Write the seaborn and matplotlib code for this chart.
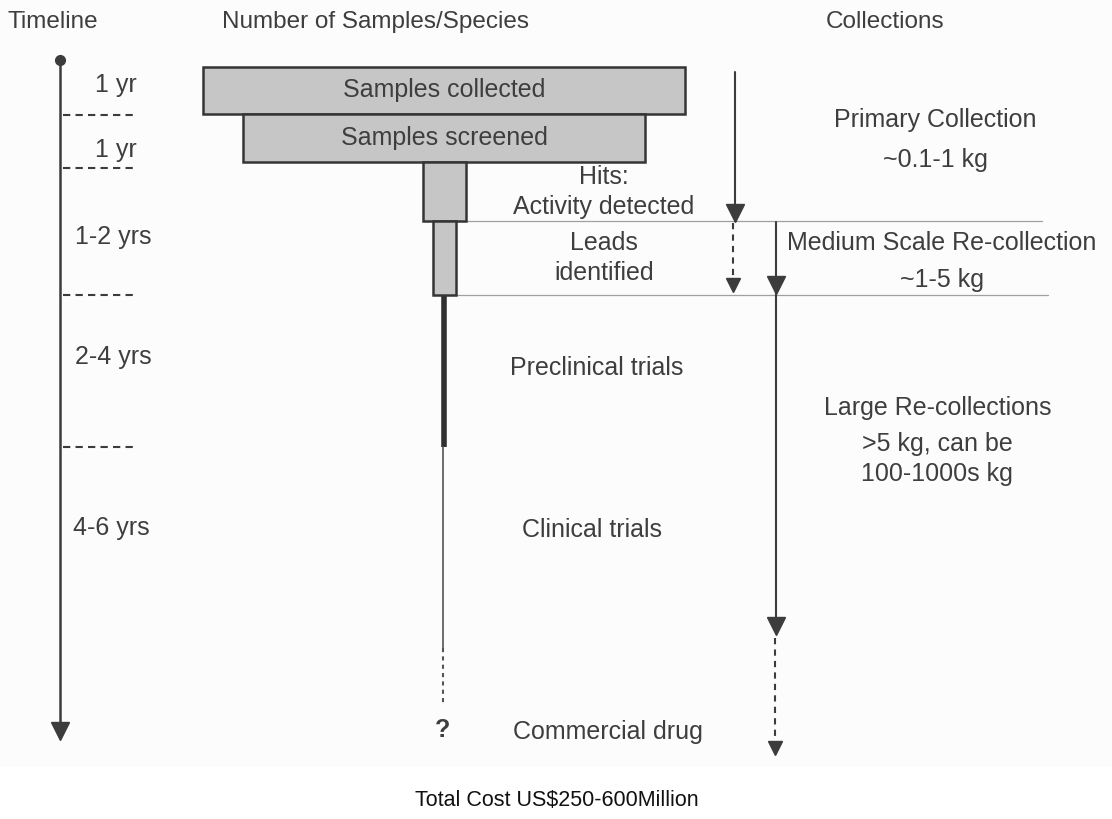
import matplotlib
matplotlib.use("Agg")
import matplotlib.pyplot as plt
import seaborn as sns

sns.set_theme(style="white")
plt.rcParams['font.family'] = ['Liberation Sans', 'DejaVu Sans']

# ---------------- data ----------------
headers = ["Timeline", "Number of Samples/Species", "Collections"]
stage_labels = ["Samples collected", "Samples screened", "Hits:\nActivity detected", "Leads\nidentified"]
funnel_widths = [482, 402, 43, 23]          # relative number of samples
funnel_edges = [67, 114, 162, 221, 295]     # stage boundaries (vertical)
timeline_labels = ["1 yr", "1 yr", "1-2 yrs", "2-4 yrs", "4-6 yrs"]
timeline_marks = [115, 168, 295, 447]
later_stages = ["Preclinical trials", "Clinical trials", "Commercial drug"]
collections = ["Primary Collection", "~0.1-1 kg",
               "Medium Scale Re-collection", "~1-5 kg",
               "Large Re-collections", ">5 kg, can be", "100-1000s kg"]
total_cost = "Total Cost US$250-600Million"

# ---------------- figure ----------------
TXT = "#3e3e3e"
LINE = "#3c3c3c"
FS = 18

fig = plt.figure(figsize=(11.12, 8.19), dpi=100)
ax = fig.add_axes([0, 0, 1, 1])
ax.set_xlim(0, 1112)
ax.set_ylim(819, 0)
ax.axis("off")

# faint scan background
ax.axhspan(0, 765, color="#fcfcfc", zorder=0)

# headers
ax.text(8, 22, headers[0], ha="left", va="center", fontsize=FS - 0.5, color=TXT)
ax.text(376, 22, headers[1], ha="center", va="center", fontsize=FS - 0.5, color=TXT)
ax.text(885, 22, headers[2], ha="center", va="center", fontsize=FS - 0.5, color=TXT)

# ---------- timeline ----------
ax.plot([60, 60], [60, 728], color=LINE, lw=1.8, solid_capstyle="butt")
ax.plot([60], [60], marker="o", ms=7, color=LINE)
ax.plot([60], [731], marker="v", ms=13, color=LINE)
for y in timeline_marks:
    ax.plot([63, 133], [y, y], color=LINE, lw=1.5, ls=(0, (3.5, 2.5)))
tl_pos = [(116, 85), (116, 150), (113, 237), (113, 357), (111, 528)]
for lab, (x, y) in zip(timeline_labels, tl_pos):
    ax.text(x, y, lab, ha="center", va="center", fontsize=FS, color=TXT)

# ---------- funnel bars ----------
cx = 444
centers = [(funnel_edges[i] + funnel_edges[i + 1]) / 2 for i in range(4)]
heights = [funnel_edges[i + 1] - funnel_edges[i] for i in range(4)]
lefts = [cx - w / 2 for w in funnel_widths]
ax.barh(centers, funnel_widths, left=lefts, height=heights,
        color="#c6c6c6", edgecolor="#353535", linewidth=1.8, zorder=3)
ax.text(cx, centers[0], stage_labels[0], ha="center", va="center", fontsize=FS, color=TXT, zorder=4)
ax.text(cx, centers[1], stage_labels[1], ha="center", va="center", fontsize=FS, color=TXT, zorder=4)
ax.text(604, 192, stage_labels[2], ha="center", va="center", fontsize=FS, color=TXT,
        linespacing=1.27, zorder=4)
ax.text(604, 258, stage_labels[3], ha="center", va="center", fontsize=FS, color=TXT,
        linespacing=1.27, zorder=4)

# trunk below leads
ax.plot([444, 444], [295, 447], color="#303030", lw=4, solid_capstyle="butt")
ax.plot([443, 443], [447, 648], color="#555555", lw=1.2)
ax.plot([443, 443], [648, 706], color="#555555", lw=1.5, ls=(0, (2, 2)))
ax.text(443, 730, "?", ha="center", va="center", fontsize=FS, fontweight="bold", color=TXT)

# later stages
ax.text(597, 368, later_stages[0], ha="center", va="center", fontsize=FS, color=TXT)
ax.text(592, 530, later_stages[1], ha="center", va="center", fontsize=FS, color=TXT)
ax.text(608, 732, later_stages[2], ha="center", va="center", fontsize=FS, color=TXT)

# horizontal separators
ax.plot([457, 1042], [221, 221], color="#a0a0a0", lw=0.9)
ax.plot([457, 1048], [295, 295], color="#a0a0a0", lw=0.9)

# ---------- collection arrows ----------
ax.plot([735, 735], [72, 212], color=LINE, lw=1.5)
ax.plot([735], [213], marker="v", ms=13, color=LINE)
ax.plot([733, 733], [223, 282], color=LINE, lw=1.5, ls=(0, (3, 2.5)))
ax.plot([733], [285], marker="v", ms=10, color=LINE)
ax.plot([776, 776], [222, 282], color=LINE, lw=1.5)
ax.plot([776], [285], marker="v", ms=13, color=LINE)
ax.plot([776, 776], [290, 624], color=LINE, lw=1.5)
ax.plot([776], [626], marker="v", ms=13, color=LINE)
ax.plot([775, 775], [638, 742], color=LINE, lw=1.5, ls=(0, (3, 2.5)))
ax.plot([775], [748], marker="v", ms=10, color=LINE)

coll_pos = [(935, 120), (935, 160), (942, 243), (942, 280),
            (938, 408), (937, 444), (937, 474)]
for lab, (x, y) in zip(collections, coll_pos):
    ax.text(x, y, lab, ha="center", va="center", fontsize=FS, color=TXT)

# footer
ax.text(557, 800, total_cost, ha="center", va="center", fontsize=15.5, color="#111111")

fig.savefig("out.png", dpi=100)
